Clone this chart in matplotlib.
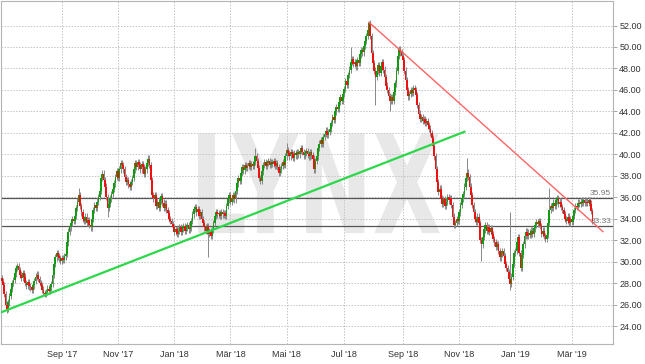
import numpy as np
import pandas as pd
import matplotlib
matplotlib.use('Agg')
import matplotlib.pyplot as plt
from matplotlib.textpath import TextPath
from matplotlib.patches import PathPatch
from matplotlib.font_manager import FontProperties
from matplotlib.transforms import Affine2D, blended_transform_factory

# daily closes, one row per month (Jun 2017 .. Mar 2019), business days
closes = [
    28.2, 27.8,
    27.0, 26.0, 25.6, 26.2, 26.8, 27.5, 28.0, 28.3, 28.9, 29.4, 29.6, 29.2, 28.8, 28.5, 28.9, 28.6, 28.0, 27.8, 28.1, 27.7, 27.6,
    27.4, 27.8, 28.2, 28.6, 28.8, 28.4, 28.0, 27.8, 27.4, 27.1, 27.0, 27.2, 27.5, 27.3, 27.6, 27.9, 28.8, 29.8, 30.4, 30.8, 30.5, 30.3, 30.1,
    30.3, 30.2, 30.5, 30.7, 31.8, 32.8, 33.2, 33.6, 34.0, 33.8, 34.3, 35.0, 35.6, 36.2, 35.2, 34.6, 34.0, 33.8, 34.2, 33.6, 33.9,
    33.4, 33.2, 34.0, 34.8, 35.3, 35.0, 35.6, 36.0, 36.6, 37.8, 38.2, 37.6, 37.0, 36.0, 35.0, 35.4, 35.9, 36.3, 36.8, 37.3, 37.9, 38.4,
    37.8, 38.6, 39.2, 39.0, 38.6, 37.9, 37.4, 37.6, 37.2, 37.0, 37.4, 37.8, 38.6, 39.2, 38.8, 39.3, 39.0, 38.6, 39.1, 38.8, 38.2, 38.6,
    39.2, 39.6, 39.0, 37.6, 36.2, 35.9, 36.2, 35.2, 35.6, 35.0, 35.7, 36.1, 35.5, 35.0, 35.4, 34.8, 34.5, 34.0, 33.8, 33.5, 33.2,
    32.8, 33.0, 32.6, 32.9, 33.2, 32.8, 33.1, 33.3, 32.9, 33.2, 33.4, 33.0, 33.2, 33.8, 34.4, 34.9, 35.1, 34.6, 34.9, 34.3, 34.6, 34.0, 33.6,
    33.2, 32.9, 33.3, 32.6, 32.8, 32.4, 33.0, 33.6, 34.3, 34.6, 34.4, 34.5, 34.3, 34.6, 34.4, 34.5, 34.3, 35.2, 35.8, 36.2,
    35.6, 35.9, 36.2, 35.8, 36.6, 37.3, 37.8, 37.5, 38.3, 38.8, 38.5, 39.0, 38.7, 38.9, 39.2, 38.8, 39.1, 38.9, 39.3, 39.8, 39.4, 38.7,
    37.8, 37.5, 38.4, 39.0, 39.3, 38.9, 39.2, 39.4, 39.0, 39.3, 39.1, 39.4, 38.9, 39.2, 38.8, 38.3, 38.6, 38.9, 39.3, 39.0, 39.8,
    40.4, 40.1, 39.8, 40.2, 40.0, 39.7, 40.1, 39.9, 40.2, 40.0, 40.3, 40.6, 40.2, 39.9, 40.1, 40.3, 40.0, 39.8, 40.2, 39.9, 39.6, 38.6, 39.4,
    39.8, 40.6, 41.0, 41.3, 41.0, 41.6, 41.9, 42.2, 41.8, 42.1, 42.4, 42.9, 43.5, 43.2, 44.0, 44.4, 44.2, 44.9, 45.3, 45.0, 45.6,
    46.1, 46.8, 46.5, 47.4, 47.9, 48.6, 48.9, 48.4, 48.6, 48.2, 48.8, 48.5, 49.3, 49.7, 49.5, 50.1, 50.6, 51.0, 51.6, 52.2, 51.0, 49.4,
    48.5, 47.8, 47.2, 47.8, 48.3, 47.6, 48.2, 48.6, 47.9, 47.2, 46.4, 46.0, 45.4, 45.0, 45.3, 45.0, 45.8, 46.6, 47.8, 49.2, 49.8, 49.5, 49.2,
    48.8, 47.8, 46.9, 46.0, 45.4, 45.6, 46.0, 45.7, 46.2, 46.0, 45.5, 44.6, 43.8, 43.3, 43.5, 43.1, 43.3, 42.9, 43.1, 42.7,
    42.4, 42.0, 41.5, 40.8, 39.8, 38.6, 37.4, 36.5, 36.8, 35.9, 35.4, 35.8, 35.2, 35.6, 36.0, 35.7, 35.9, 35.3, 34.2, 33.4, 33.6, 34.0, 33.8,
    34.6, 35.3, 35.9, 36.3, 37.0, 37.8, 38.3, 37.9, 37.0, 36.2, 35.3, 34.6, 34.0, 33.7, 34.2, 33.6, 32.0, 31.6, 32.3, 33.0, 33.4, 32.9,
    33.2, 32.8, 33.1, 32.6, 32.1, 31.8, 31.4, 31.6, 31.0, 30.4, 30.7, 31.0, 30.5, 29.8, 29.4, 29.0, 28.4, 27.9, 28.6, 29.8, 30.8,
    31.0, 31.8, 32.3, 30.8, 29.4, 30.6, 31.6, 32.4, 32.8, 32.4, 32.7, 32.5, 32.9, 32.6, 33.1, 33.4, 33.7, 33.5, 33.8, 33.3, 32.6, 32.9, 32.4,
    32.1, 32.5, 33.6, 34.8, 35.2, 35.0, 35.5, 35.2, 35.7, 35.9, 35.4, 35.6, 35.1, 34.8, 34.4, 34.0, 33.8, 34.2, 33.6, 34.0,
    33.7, 34.3, 34.8, 35.2, 35.1, 35.5, 35.4, 35.6, 35.5, 35.7, 35.5, 35.6, 35.5, 35.7, 35.4, 34.7, 33.8,
]
first_open = 28.5

# days with long shadows: date -> (high, low)
long_wicks = {
    '2017-07-05': (None, 25.2),
    '2017-09-20': (36.9, None),
    '2017-10-20': (None, 34.2),
    '2017-12-04': (39.9, None),
    '2018-02-06': (None, 30.4),
    '2018-03-28': (40.6, None),
    '2018-05-01': (41.1, None),
    '2018-07-09': (50.0, None),
    '2018-07-27': (52.4, None),
    '2018-08-03': (None, 44.6),
    '2018-08-20': (None, 44.0),
    '2018-11-09': (39.7, None),
    '2018-11-26': (None, 30.1),
    '2018-12-26': (34.6, 27.4),
    '2019-02-06': (36.9, None),
}

# trend lines (date, price) and horizontal levels
green_trend = [('2017-06-29', 25.3), ('2018-11-07', 42.1)]
red_trend = [('2018-07-27', 52.3), ('2019-04-04', 32.8)]
levels = [35.95, 33.33]

tick_months = ['2017-09', '2017-11', '2018-01', '2018-03', '2018-05', '2018-07',
               '2018-09', '2018-11', '2019-01', '2019-03']
tick_labels = ["Sep '17", "Nov '17", "Jan '18", "Mär '18", "Mai '18", "Jul '18",
               "Sep '18", "Nov '18", "Jan '19", "Mär '19"]

WICK = 0.3
UP = '#109c10'
DOWN = '#f01010'

all_days = pd.bdate_range('2017-06-29', '2019-05-31')
dates = all_days[:len(closes)]
closes = np.array(closes)
opens = np.concatenate([[first_open], closes[:-1]])
highs = np.maximum(opens, closes) + WICK
lows = np.minimum(opens, closes) - WICK
for d, (h, l) in long_wicks.items():
    i = dates.get_loc(pd.Timestamp(d))
    if h is not None:
        highs[i] = h
    if l is not None:
        lows[i] = l

def pos(d):
    return all_days.get_loc(pd.Timestamp(d))

fig = plt.figure(figsize=(6.45, 3.64), dpi=100)
ax = fig.add_axes([1 / 645, 20 / 364, 612 / 645, 343.5 / 364])

x = np.arange(len(closes))
ax.vlines(x, lows, highs, color='#888888', lw=0.7, zorder=2)
up = closes >= opens
body = np.abs(closes - opens)
body = np.maximum(body, 0.08)
bottom = np.minimum(opens, closes)
ax.bar(x[up], body[up], bottom=bottom[up], width=1.3, color=UP, lw=0, zorder=3)
ax.bar(x[~up], body[~up], bottom=bottom[~up], width=1.3, color=DOWN, lw=0, zorder=3)

ax.plot([pos(d) for d, _ in green_trend], [p for _, p in green_trend], color='#2bd84a', lw=1.6, zorder=4)
ax.plot([pos(d) for d, _ in red_trend], [p for _, p in red_trend], color='#ff6464', lw=1.0, zorder=4)

for lv in levels:
    ax.axhline(lv, color='#555555', lw=0.9, zorder=1.5)
trans = blended_transform_factory(ax.transAxes, ax.transData)
for lv in levels:
    ax.text(0.997, lv + 0.06, '%.2f' % lv, transform=trans, ha='right', va='bottom',
            fontsize=6, color='#777777', family='Liberation Sans', zorder=5)

# watermark
tp = TextPath((0, 0), 'LYNX', size=1, prop=FontProperties(family='DejaVu Sans', weight='bold'))
ext = tp.get_extents()
bx0, bx1, by0, by1 = 0.322, 0.717, 0.323, 0.613
tr = Affine2D().translate(-ext.x0, -ext.y0).scale((bx1 - bx0) / ext.width, (by1 - by0) / ext.height) \
    .translate(bx0, by0) + ax.transAxes
ax.add_patch(PathPatch(tp, transform=tr, facecolor='#e8e8e8', edgecolor='none', zorder=0.1))

ax.set_xlim(-0.5, 467.7)
ax.set_ylim(22.33, 54.33)
ax.set_yticks(np.arange(24, 53, 2))
ax.yaxis.set_major_formatter(plt.FormatStrFormatter('%.2f'))
ax.yaxis.tick_right()
ticks = [np.searchsorted(all_days, pd.Timestamp(m + '-01')) for m in tick_months]
ax.set_xticks(ticks)
ax.set_xticklabels(tick_labels)
ax.tick_params(axis='y', length=3, width=0.6, color='#999999', labelsize=6.5, labelcolor='#333333', pad=1.5)
ax.tick_params(axis='x', length=0, labelsize=6.5, labelcolor='#333333', pad=4)
for lab in ax.get_xticklabels() + ax.get_yticklabels():
    lab.set_family('Liberation Sans')

ax.grid(True, color='#c4c4c4', ls=(0, (1.5, 1.5)), lw=0.7)
ax.set_axisbelow(True)
for s in ax.spines.values():
    s.set_color('#b4b4b4')
    s.set_linewidth(0.8)

fig.savefig('out.png', dpi=100)
